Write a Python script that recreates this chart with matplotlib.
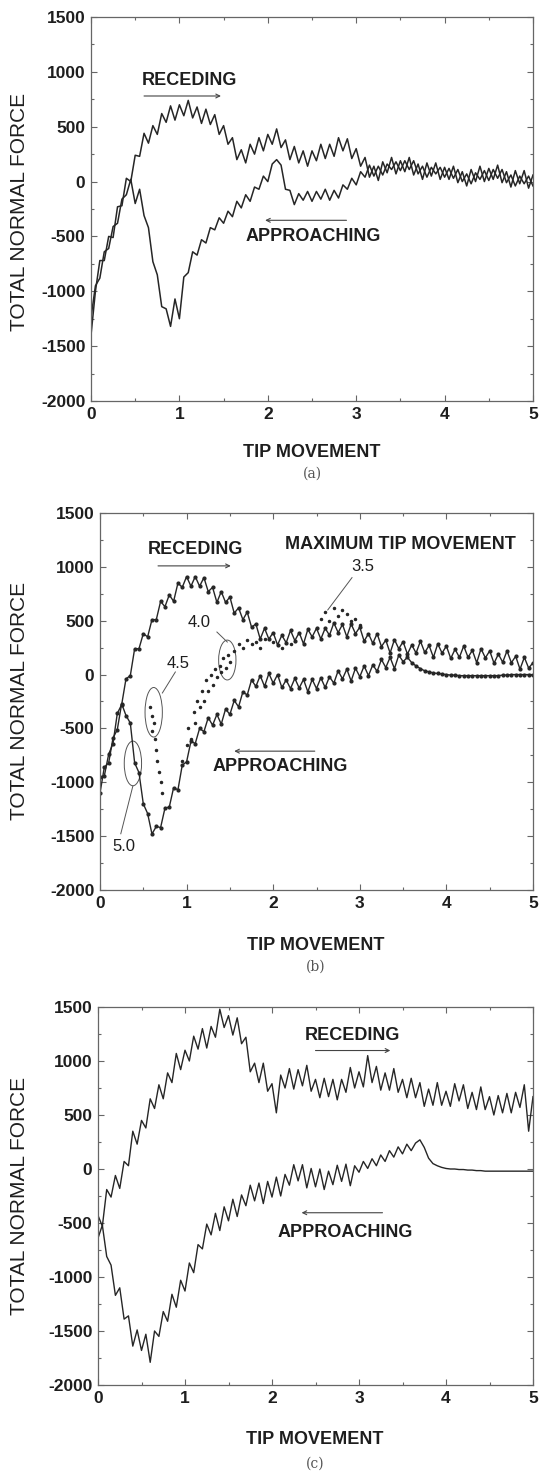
import matplotlib
matplotlib.use("Agg")
import matplotlib.pyplot as plt
from matplotlib.patches import Ellipse
from matplotlib.ticker import MultipleLocator
import numpy as np

plt.rcParams['font.family'] = ['Liberation Sans', 'DejaVu Sans']
plt.rcParams['axes.unicode_minus'] = False

# tip movement grid (0 .. 5, step 0.05)
tip = np.linspace(0, 5, 101)

# (a) total normal force
a_receding = [
    -1400, -1000, -720, -720, -500, -510, -230, -220, 30, 0,
    240, 230, 440, 350, 510, 430, 620, 540, 690, 560,
    700, 600, 740, 580, 680, 530, 660, 520, 610, 430,
    510, 340, 400, 200, 290, 170, 340, 250, 400, 280,
    430, 340, 480, 310, 380, 200, 320, 170, 280, 140,
    280, 190, 340, 210, 340, 230, 400, 280, 390, 210,
    300, 140, 220, 40, 140, 10, 180, 80, 220, 70,
    190, 90, 220, 60, 160, 20, 170, 50, 170, 20,
    130, 20, 140, -10, 90, -40, 110, 0, 140, 0,
    120, 20, 150, -10, 90, -50, 100, -20, 100, -60,
    60]
a_approaching = [
    -1240, -950, -880, -640, -610, -410, -380, -160, -120, 20,
    -200, -70, -310, -420, -730, -850, -1140, -1160, -1320, -1070,
    -1250, -870, -830, -640, -670, -530, -560, -420, -440, -330,
    -380, -270, -320, -180, -240, -120, -180, -50, -70, 50,
    0, 160, 200, 150, -70, -80, -210, -110, -170, -90,
    -180, -90, -160, -70, -170, -80, -150, -30, -70, 30,
    -30, 90, 40, 150, 50, 140, 60, 160, 110, 180,
    100, 190, 110, 190, 70, 140, 40, 130, 70, 130,
    40, 120, 30, 110, 0, 70, -20, 80, 20, 100,
    10, 110, 30, 110, -10, 60, -40, 50, -20, 50,
    -40]

# (b) total normal force, several maximum tip movements
b_receding = [
    -950, -940, -740, -640, -360, -280, -40, -10, 240, 240,
    380, 350, 510, 510, 680, 630, 740, 680, 850, 810,
    910, 820, 910, 820, 900, 770, 810, 670, 770, 670,
    720, 570, 620, 510, 580, 440, 470, 330, 430, 330,
    390, 275, 365, 295, 410, 315, 390, 285, 420, 350,
    430, 330, 430, 365, 480, 390, 465, 350, 470, 380,
    440, 310, 380, 290, 380, 260, 320, 200, 325, 240,
    305, 190, 275, 200, 310, 205, 270, 160, 285, 200,
    265, 150, 235, 160, 265, 160, 225, 110, 240, 155,
    220, 105, 190, 115, 220, 110, 170, 50, 160, 60,
    110]
b_approaching = [
    -1100, -860, -820, -590, -510, -270, -380, -450, -820, -910,
    -1200, -1290, -1480, -1410, -1420, -1240, -1230, -1050, -1070, -840,
    -810, -620, -640, -500, -530, -400, -470, -370, -460, -320,
    -370, -240, -300, -160, -190, -50, -110, -10, -110, 10,
    -80, 0, -120, -50, -130, -35, -125, -45, -160, -45,
    -130, -30, -120, -20, -80, 35, -40, 50, -60, 60,
    -20, 80, -10, 90, 30, 140, 65, 160, 55, 180,
    120, 160, 110, 80, 55, 35, 25, 15, 10, 5,
    0, -5, -5, -10, -10, -10, -10, -10, -10, -10,
    -10, -10, -10, -5, -5, 0, 0, 0, 0, 0,
    0]
b_scatter_x = [0.58, 0.60, 0.62, 0.60, 0.63, 0.65, 0.66, 0.68, 0.70, 0.72,
               0.95, 1.00, 1.02, 1.05, 1.08, 1.10, 1.12, 1.15, 1.18, 1.20,
               1.22, 1.25, 1.28, 1.30, 1.33, 1.35, 1.38, 1.40, 1.42, 1.45,
               1.48, 1.50, 1.55, 1.60, 1.65, 1.70, 1.75, 1.80, 1.85, 1.90,
               2.00, 2.10, 2.20,
               2.55, 2.60, 2.65, 2.70, 2.75, 2.80, 2.85, 2.90, 2.95, 3.00]
b_scatter_y = [-300, -380, -450, -520, -600, -700, -800, -900, -1000, -1100,
               -800, -650, -500, -600, -350, -450, -250, -300, -150, -250,
               -50, -150, 0, -100, 50, -20, 80, 20, 150, 60,
               180, 120, 220, 280, 250, 320, 280, 300, 250, 330,
               300, 250, 280,
               520, 580, 500, 620, 540, 600, 560, 500, 520, 460]

# (c) total normal force
c_receding = [
    -430, -530, -190, -260, -60, -180, 70, 30, 350, 230,
    450, 380, 650, 560, 780, 650, 890, 800, 1070, 920,
    1100, 1000, 1230, 1110, 1300, 1120, 1320, 1220, 1480, 1310,
    1420, 1240, 1400, 1160, 1220, 900, 980, 800, 980, 720,
    790, 520, 870, 750, 930, 740, 920, 770, 960, 720,
    830, 660, 840, 670, 830, 640, 830, 710, 940, 750,
    900, 760, 1050, 800, 950, 730, 890, 730, 930, 710,
    830, 660, 840, 660, 800, 580, 740, 590, 800, 590,
    720, 580, 790, 630, 780, 560, 710, 550, 760, 550,
    670, 500, 680, 520, 700, 520, 710, 570, 780, 350,
    670]
c_approaching = [
    -640, -520, -810, -890, -1170, -1100, -1390, -1360, -1640, -1490,
    -1680, -1530, -1790, -1500, -1550, -1320, -1410, -1160, -1280, -1030,
    -1130, -870, -960, -700, -740, -510, -610, -410, -570, -350,
    -480, -280, -440, -240, -340, -150, -295, -130, -320, -115,
    -260, -75, -250, -50, -150, 40, -110, 40, -175, 5,
    -165, 0, -190, -20, -145, 35, -115, 45, -155, 30,
    -30, 70, 5, 95, 30, 130, 70, 170, 110, 205,
    140, 230, 170, 240, 270, 200, 100, 50, 30, 15,
    5, 0, 0, -5, -5, -10, -10, -15, -15, -20,
    -20, -20, -20, -20, -20, -20, -20, -20, -20, -20,
    -20]

W, H = 547, 1478
line_col = '#262626'
txt_col = '#1e1e1e'


def fx(px):
    return px / W


def fy(py):
    return 1 - py / H


def setup(ax):
    ax.set_xlim(0, 5)
    ax.set_ylim(-2000, 1500)
    ax.xaxis.set_major_locator(MultipleLocator(1))
    ax.xaxis.set_minor_locator(MultipleLocator(0.5))
    ax.yaxis.set_major_locator(MultipleLocator(500))
    ax.yaxis.set_minor_locator(MultipleLocator(250))
    ax.tick_params(which='both', direction='in', top=True, right=True,
                   color='#666666', width=0.8)
    ax.tick_params(which='major', length=4, labelsize=12.5, labelcolor=txt_col, pad=4)
    ax.tick_params(which='minor', length=2.5)
    for lab in ax.get_xticklabels() + ax.get_yticklabels():
        lab.set_fontweight('bold')
    for s in ax.spines.values():
        s.set_color('#666666')
        s.set_linewidth(0.9)


def arrow(ax, start, end):
    ax.annotate('', xy=end, xytext=start,
                arrowprops=dict(arrowstyle='->', lw=0.8, color='#444444',
                                shrinkA=0, shrinkB=0, mutation_scale=7))


def labels(ylab_y, xlab_y, cap_y, cap, xc):
    fig.text(fx(20), fy(ylab_y), 'TOTAL NORMAL FORCE', rotation=90, fontsize=15,
             ha='center', va='center', color=txt_col)
    fig.text(fx(xc), fy(xlab_y), 'TIP MOVEMENT', fontsize=13, fontweight='bold',
             ha='center', va='center', color=txt_col)
    fig.text(fx(xc), fy(cap_y), cap, fontsize=10, family='DejaVu Serif',
             ha='center', va='center', color='#555555')


fig = plt.figure(figsize=(W / 100, H / 100), dpi=100)

# panel (a)
ax = fig.add_axes([fx(91), fy(401), fx(442), 384 / H])
setup(ax)
ax.plot(tip, a_receding, color=line_col, lw=1.1)
ax.plot(tip, a_approaching, color=line_col, lw=1.1)
ax.text(1.11, 923, 'RECEDING', fontsize=13, fontweight='bold', ha='center', va='center', color=txt_col)
arrow(ax, (0.6, 780), (1.47, 780))
ax.text(2.51, -497, 'APPROACHING', fontsize=13, fontweight='bold', ha='center', va='center', color=txt_col)
arrow(ax, (2.89, -353), (1.97, -353))
labels(212, 452, 474, '(a)', 312)

# panel (b)
ax = fig.add_axes([fx(100), fy(890), fx(433), 377 / H])
setup(ax)
ax.plot(tip, b_receding, color=line_col, lw=1.0, marker='.', ms=4)
ax.plot(tip, b_approaching, color=line_col, lw=1.0, marker='.', ms=4)
ax.plot(b_scatter_x, b_scatter_y, ls='none', color=line_col, marker='.', ms=3)
for (cx, cy, ew, eh) in [(0.38, -825, 0.2, 415), (0.62, -350, 0.2, 460), (1.47, 135, 0.2, 370)]:
    ax.add_patch(Ellipse((cx, cy), ew, eh, fill=False, ec='#555555', lw=0.7))
leaders = [((0.24, -1478), (0.38, -1033)), ((0.87, 24), (0.72, -171)),
           ((1.35, 395), (1.47, 302)), ((2.91, 900), (2.63, 600))]
for p0, p1 in leaders:
    ax.plot([p0[0], p1[0]], [p0[1], p1[1]], color='#555555', lw=0.7)
for (tx, ty, s) in [(0.28, -1600, '5.0'), (0.9, 107, '4.5'), (1.15, 488, '4.0'), (3.04, 1000, '3.5')]:
    ax.text(tx, ty, s, fontsize=12, ha='center', va='center', color=txt_col)
ax.text(3.47, 1210, 'MAXIMUM TIP MOVEMENT', fontsize=13, fontweight='bold', ha='center', va='center', color=txt_col)
ax.text(1.1, 1162, 'RECEDING', fontsize=13, fontweight='bold', ha='center', va='center', color=txt_col)
arrow(ax, (0.67, 1009), (1.51, 1009))
ax.text(2.08, -849, 'APPROACHING', fontsize=13, fontweight='bold', ha='center', va='center', color=txt_col)
arrow(ax, (2.48, -711), (1.55, -711))
labels(701, 946, 967, '(b)', 316)

# panel (c)
ax = fig.add_axes([fx(98), fy(1385), fx(435), 378 / H])
setup(ax)
ax.plot(tip, c_receding, color=line_col, lw=1.0)
ax.plot(tip, c_approaching, color=line_col, lw=1.0)
ax.text(2.93, 1237, 'RECEDING', fontsize=13, fontweight='bold', ha='center', va='center', color=txt_col)
arrow(ax, (2.5, 1097), (3.36, 1097))
ax.text(2.84, -590, 'APPROACHING', fontsize=13, fontweight='bold', ha='center', va='center', color=txt_col)
arrow(ax, (3.27, -405), (2.34, -405))
labels(1196, 1440, 1464, '(c)', 315)

fig.savefig('out.png', dpi=100, facecolor='white')
